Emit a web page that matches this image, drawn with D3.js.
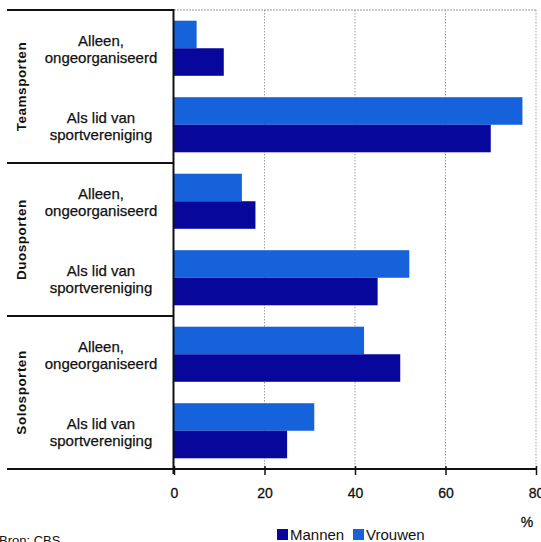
<!DOCTYPE html>
<html>
<head>
<meta charset="utf-8">
<script src="https://cdn.jsdelivr.net/npm/d3@7"></script>
<style>
  html, body { margin: 0; padding: 0; background: #fff; }
  svg { display: block; font-family: "Liberation Sans", Arial, sans-serif; }
</style>
</head>
<body>
<svg id="chart" width="541" height="542"></svg>
<script>
// Sport groups, each with two ways of practising
const groups = ["Teamsporten", "Duosporten", "Solosporten"];
const categories = [
  "Teamsporten|Alleen, ongeorganiseerd",
  "Teamsporten|Als lid van sportvereniging",
  "Duosporten|Alleen, ongeorganiseerd",
  "Duosporten|Als lid van sportvereniging",
  "Solosporten|Alleen, ongeorganiseerd",
  "Solosporten|Als lid van sportvereniging"
];
const categoryLines = [
  ["Alleen,", "ongeorganiseerd"],
  ["Als lid van", "sportvereniging"]
];
const series = ["Vrouwen", "Mannen"];
const vrouwen = [5, 77, 15, 52, 42, 31];
const mannen  = [11, 70, 18, 45, 50, 25];
const xTicks = [0, 20, 40, 60, 80];
const legendItems = ["Mannen", "Vrouwen"];

const colors = { Mannen: "#07079c", Vrouwen: "#1562da" };

const svg = d3.select("#chart");
const plot = { left: 174, right: 536, top: 10, bottom: 469 };
const tableLeft = 7;

const x = d3.scaleLinear().domain([0, 80]).range([plot.left, plot.right]);
const y = d3.scaleBand().domain(categories).range([plot.top, plot.bottom])
  .paddingInner(0.28).paddingOuter(0.14);
const ySeries = d3.scaleBand().domain(series).range([0, y.bandwidth()]);
const yGroup = d3.scaleBand().domain(groups).range([plot.top, plot.bottom]);

const rows = categories.map((c, i) => ({ key: c, Vrouwen: vrouwen[i], Mannen: mannen[i], idx: i }));

// Gridlines (dotted grey) and top border
svg.append("g")
  .selectAll("line")
  .data(xTicks.slice(1))
  .join("line")
  .attr("x1", d => x(d)).attr("x2", d => x(d))
  .attr("y1", plot.top).attr("y2", plot.bottom)
  .attr("stroke", "#a0a0a0").attr("stroke-width", 1)
  .attr("stroke-dasharray", "1.5,1.5");
svg.append("line")
  .attr("x1", plot.left).attr("x2", plot.right)
  .attr("y1", plot.top).attr("y2", plot.top)
  .attr("stroke", "#9a9a9a").attr("stroke-width", 1.2)
  .attr("stroke-dasharray", "2,1");

// Bars
const rowG = svg.append("g").selectAll("g")
  .data(rows).join("g")
  .attr("transform", d => `translate(0,${y(d.key)})`);
rowG.selectAll("rect")
  .data(d => series.map(s => ({ s, v: d[s] })))
  .join("rect")
  .attr("x", x(0))
  .attr("y", d => ySeries(d.s))
  .attr("width", d => x(d.v) - x(0))
  .attr("height", ySeries.bandwidth())
  .attr("fill", d => colors[d.s]);

// Left label table: group separators and vertical axis
const bounds = groups.map(g => yGroup(g)).concat([plot.bottom]);
svg.append("g").selectAll("line")
  .data(bounds).join("line")
  .attr("x1", tableLeft).attr("x2", plot.left)
  .attr("y1", d => d).attr("y2", d => d)
  .attr("stroke", "#111").attr("stroke-width", 2);
svg.append("line")
  .attr("x1", plot.left - 0.5).attr("x2", plot.left - 0.5)
  .attr("y1", plot.top - 1).attr("y2", plot.bottom + 5)
  .attr("stroke", "#111").attr("stroke-width", 2);

// Group labels (rotated)
svg.append("g").selectAll("text")
  .data(groups).join("text")
  .attr("transform", g => `translate(26,${yGroup(g) + yGroup.bandwidth() / 2}) rotate(-90)`)
  .attr("text-anchor", "middle")
  .attr("font-size", 13.5)
  .attr("font-weight", "bold")
  .attr("letter-spacing", 0.5)
  .attr("fill", "#111")
  .text(d => d);

// Category labels (two lines each)
const catG = svg.append("g").selectAll("text")
  .data(rows).join("text")
  .attr("text-anchor", "middle")
  .attr("font-size", 15)
  .attr("fill", "#111")
  .attr("stroke", "#111").attr("stroke-width", 0.25);
catG.each(function(d) {
  const lines = categoryLines[d.idx % 2];
  const cy = y(d.key) + y.bandwidth() / 2;
  d3.select(this).selectAll("tspan")
    .data(lines).join("tspan")
    .attr("x", 101)
    .attr("y", (l, i) => cy + (i === 0 ? -2 : 15))
    .text(l => l);
});

// X axis
const xAxis = svg.append("g")
  .attr("transform", `translate(0,${plot.bottom})`)
  .call(d3.axisBottom(x).tickValues(xTicks).tickSize(6).tickFormat(d3.format("d")));
xAxis.select(".domain").attr("stroke", "#111").attr("stroke-width", 2)
  .attr("d", `M${plot.left},0H${plot.right}`);
xAxis.selectAll(".tick line").attr("stroke", "#111").attr("stroke-width", 1.5)
  .attr("y1", -3);
xAxis.selectAll(".tick text")
  .attr("font-family", "\"Liberation Sans\", Arial, sans-serif")
  .attr("font-size", 14).attr("fill", "#111")
  .attr("stroke", "#111").attr("stroke-width", 0.3)
  .attr("dy", 0).attr("y", 29);

svg.append("text")
  .attr("x", 527).attr("y", 527)
  .attr("text-anchor", "middle")
  .attr("font-size", 14).attr("fill", "#111")
  .attr("stroke", "#111").attr("stroke-width", 0.3)
  .text("%");

// Legend
const legendX = [277, 353];
const leg = svg.append("g").selectAll("g")
  .data(legendItems).join("g")
  .attr("transform", (d, i) => `translate(${legendX[i]},529)`);
leg.append("rect")
  .attr("width", 11).attr("height", 11)
  .attr("fill", d => colors[d]);
leg.append("text")
  .attr("x", 13).attr("y", 10.5)
  .attr("font-size", 15).attr("fill", "#111")
  .text(d => d);

// Source
svg.append("text")
  .attr("x", -1).attr("y", 545)
  .attr("font-size", 13).attr("fill", "#111")
  .text("Bron: CBS");
</script>
</body>
</html>
